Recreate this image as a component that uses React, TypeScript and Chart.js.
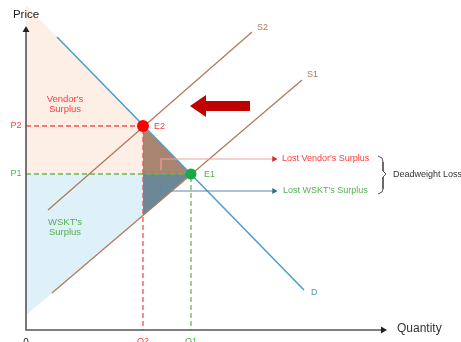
import React, { useEffect, useRef } from 'react';
import { Chart, registerables } from 'chart.js';

Chart.register(...registerables);

// ---- data (quantity / price units) ----
const equilibriumNames = ['E2', 'E1'];
const equilibriumQuantities = [117, 165];
const equilibriumPrices = [204, 156];
const priceTickLabels = ['P2', 'P1'];
const quantityTickLabels = ['Q2', 'Q1'];
const demandQuantities = [31, 278];
const demandPrices = [293, 40];
const supply1Quantities = [26, 276];
const supply1Prices = [37, 250];
const supply2Quantities = [22, 226];
const supply2Prices = [120, 298];
const curveNames = ['S2', 'S1', 'D'];
const axisMaxQuantity = 357;
const axisMaxPrice = 300;

const FONT = "'Liberation Sans', Arial, Helvetica, sans-serif";
const RED = '#ff3b3b';
const GREEN = '#55b04f';

function valueOnLine(qs: number[], ps: number[], q: number) {
  const t = (q - qs[0]) / (qs[1] - qs[0]);
  return ps[0] + t * (ps[1] - ps[0]);
}

type P = { x: number; y: number };

const poly = (pts: P[], color: string, order: number) => ({
  data: [...pts, pts[0]],
  showLine: true,
  fill: 'shape',
  backgroundColor: color,
  borderColor: 'transparent',
  borderWidth: 0,
  pointRadius: 0,
  order,
});

const path = (pts: P[], color: string, width: number, dash: number[], order: number) => ({
  data: pts,
  showLine: true,
  fill: false,
  borderColor: color,
  backgroundColor: color,
  borderWidth: width,
  borderDash: dash,
  pointRadius: 0,
  order,
});

const marker = (pt: P, color: string, radius: number, style: string, rotation: number, order: number) => ({
  data: [pt],
  showLine: false,
  pointStyle: style,
  rotation,
  pointRadius: radius,
  backgroundColor: color,
  borderColor: color,
  borderWidth: 0,
  order,
});

const textPlugin = {
  id: 'econText',
  afterDatasetsDraw(chart: any) {
    const { ctx } = chart;
    const xs = chart.scales.x;
    const ys = chart.scales.y;
    const X = (v: number) => xs.getPixelForValue(v);
    const Y = (v: number) => ys.getPixelForValue(v);
    const put = (text: string, x: number, y: number, color: string, size: number, align: CanvasTextAlign = 'left') => {
      ctx.save();
      ctx.font = `${size}px ${FONT}`;
      ctx.fillStyle = color;
      ctx.textAlign = align;
      ctx.textBaseline = 'middle';
      ctx.fillText(text, x, y);
      ctx.restore();
    };
    put('Price', X(0), Y(axisMaxPrice) - 15, '#222', 11.5, 'center');
    put('Quantity', X(axisMaxQuantity) + 14, Y(0) - 1, '#333', 12, 'left');
    put('0', X(0), Y(0) + 13, '#222', 10, 'center');
    const cols = [RED, GREEN];
    priceTickLabels.forEach((t, i) => put(t, X(0) - 10, Y(equilibriumPrices[i]), cols[i], 9, 'center'));
    quantityTickLabels.forEach((t, i) => put(t, X(equilibriumQuantities[i]), Y(0) + 12, cols[i], 9, 'center'));
    equilibriumNames.forEach((t, i) =>
      put(t, X(equilibriumQuantities[i]) + (i === 0 ? 11 : 13), Y(equilibriumPrices[i]) + 1, cols[i], 9, 'left'));
    put(curveNames[0], X(supply2Quantities[1]) + 5, Y(supply2Prices[1]) - 4, '#b07a5c', 9);
    put(curveNames[1], X(supply1Quantities[1]) + 5, Y(supply1Prices[1]) - 5, '#b07a5c', 9);
    put(curveNames[2], X(demandQuantities[1]) + 7, Y(demandPrices[1]) + 3, '#4a9cc8', 9);
    put("Vendor's", X(39), Y(231), RED, 9.5, 'center');
    put('Surplus', X(39), Y(221), RED, 9.5, 'center');
    put("WSKT's", X(39), Y(108), GREEN, 9.5, 'center');
    put('Surplus', X(39), Y(98), GREEN, 9.5, 'center');
    put("Lost Vendor's Surplus", X(256), Y(171), RED, 9);
    put("Lost WSKT's Surplus", X(257), Y(139), GREEN, 9);
    put('Deadweight Loss', X(367), Y(155), '#333', 9);
  },
};

export default function App() {
  const ref = useRef<HTMLCanvasElement | null>(null);

  useEffect(() => {
    if (!ref.current) return;
    const [q2, q1] = equilibriumQuantities;
    const [p2, p1] = equilibriumPrices;
    const dAt0 = valueOnLine(demandQuantities, demandPrices, 0);
    const s1At0 = valueOnLine(supply1Quantities, supply1Prices, 0);
    const s1AtQ2 = valueOnLine(supply1Quantities, supply1Prices, q2);
    const toPts = (qs: number[], ps: number[]) => qs.map((q, i) => ({ x: q, y: ps[i] }));

    const datasets: any[] = [
      poly([{ x: 0, y: dAt0 }, { x: q2, y: p2 }, { x: q2, y: p1 }, { x: 0, y: p1 }], '#fdeee6', 20),
      poly([{ x: 0, y: p1 }, { x: q2, y: p1 }, { x: q2, y: s1AtQ2 }, { x: 0, y: s1At0 }], '#def0f8', 20),
      poly([{ x: q2, y: p2 }, { x: q2, y: p1 }, { x: q1, y: p1 }], '#a98470', 19),
      poly([{ x: q2, y: p1 }, { x: q1, y: p1 }, { x: q2, y: s1AtQ2 }], '#6c8896', 19),
      path([{ x: 0, y: p2 }, { x: q2, y: p2 }, { x: q2, y: 0 }], '#ff4d4d', 1.3, [5, 3], 15),
      path([{ x: 0, y: p1 }, { x: q1, y: p1 }, { x: q1, y: 0 }], '#6fb552', 1.3, [5, 3], 15),
      path(toPts(supply2Quantities, supply2Prices), '#b07a5c', 1.3, [], 10),
      path(toPts(supply1Quantities, supply1Prices), '#b07a5c', 1.3, [], 10),
      path(toPts(demandQuantities, demandPrices), '#4a9cc8', 1.5, [], 10),
      path([{ x: 0, y: axisMaxPrice - 2 }, { x: 0, y: 0 }, { x: axisMaxQuantity - 2, y: 0 }], '#555', 1.6, [], 9),
      marker({ x: 0, y: axisMaxPrice }, '#222', 4, 'triangle', 0, 8),
      marker({ x: axisMaxQuantity, y: 0 }, '#222', 4, 'triangle', 90, 8),
      // shift arrow
      poly([
        { x: 164, y: 224 }, { x: 180, y: 235 }, { x: 180, y: 229 }, { x: 224, y: 229 },
        { x: 224, y: 219 }, { x: 180, y: 219 }, { x: 180, y: 213 },
      ], '#c00000', 8),
      // annotation arrows
      path([{ x: 135, y: 160 }, { x: 135, y: 171 }, { x: 246, y: 171 }], '#f2a0a0', 1.2, [], 7),
      marker({ x: 248, y: 171 }, '#d42a2a', 3.5, 'triangle', 90, 6),
      path([{ x: 135, y: 147 }, { x: 135, y: 139 }, { x: 246, y: 139 }], '#5a88a8', 1.2, [], 7),
      marker({ x: 248, y: 139 }, '#2d6a8f', 3.5, 'triangle', 90, 6),
      // brace
      path([
        { x: 352, y: 174 }, { x: 356, y: 172 }, { x: 357, y: 168 }, { x: 357, y: 159 },
        { x: 360, y: 156 }, { x: 357, y: 153 }, { x: 357, y: 141 }, { x: 356, y: 138 }, { x: 352, y: 136 },
      ], '#555', 1, [], 7),
      marker({ x: q2, y: p2 }, '#ff0000', 6, 'circle', 0, 1),
      marker({ x: q1, y: p1 }, '#16a84a', 5.5, 'circle', 0, 1),
    ];

    const chart = new Chart(ref.current, {
      type: 'scatter',
      data: { datasets },
      options: {
        animation: false,
        responsive: false,
        events: [],
        layout: { padding: 0, autoPadding: false },
        plugins: { legend: { display: false }, tooltip: { enabled: false } },
        scales: {
          x: { type: 'linear', display: false, min: -26, max: 435 },
          y: { type: 'linear', display: false, min: -12, max: 330 },
        },
        elements: { line: { tension: 0 } },
      },
      plugins: [textPlugin],
    } as any);
    return () => chart.destroy();
  }, []);

  return (
    <canvas
      ref={ref}
      width={461}
      height={342}
      style={{ position: 'fixed', left: 0, top: 0, width: 461, height: 342, display: 'block', background: '#fff' }}
    />
  );
}
